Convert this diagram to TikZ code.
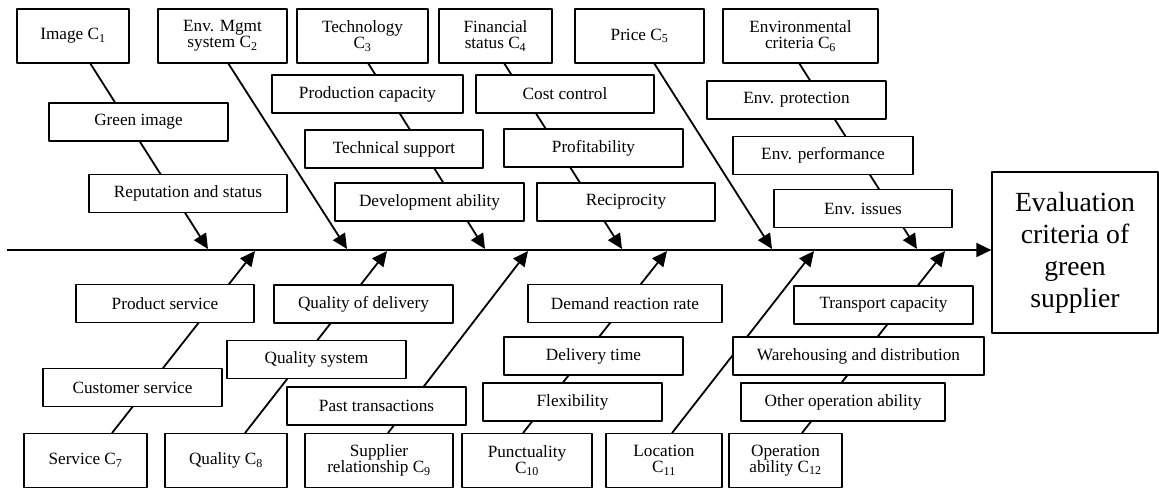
\documentclass[tikz,border=0pt]{standalone}
\usepackage{fontspec}
\setmainfont{Liberation Serif}
\usetikzlibrary{arrows.meta}
\newcommand{\Cn}[1]{C\textsubscript{#1}}
\begin{document}
\begin{tikzpicture}[x=1pt, y=-1pt, >={Triangle[length=15pt,width=14pt]}, line join=round,
		font=\fontsize{17.2}{16}\selectfont,
		box/.style={draw, fill=white, line width=1.3pt, inner sep=0pt, align=center, minimum height=38pt},
		cat/.style={box, minimum height=54pt},
		bone/.style={->, line width=1.8pt}]
	\useasboundingbox (0,0) rectangle (1159,490);
	% result box
	\node[draw, line width=1.3pt, inner sep=0pt, align=center, minimum width=166pt, minimum height=161pt,
		font=\fontsize{27.7}{32}\selectfont] (goal) at (1075,252.5) {Evaluation\\criteria of\\green\\supplier};
	% spine
	\coordinate (tail) at (7,250);
	\draw[bone] (tail) -- (tail -| goal.west);
	% bones, upper side
	\foreach \n/\sx/\tx in {1/90/208, 2/228/347, 3/368/485, 4/504/622, 5/654/772, 6/799/917}{
		\coordinate (s\n) at (\sx,63);
		\coordinate (t\n) at (\tx,249);
		\draw[bone] (s\n) -- (t\n);
	}
	% bones, lower side
	\foreach \n/\sx/\tx in {7/112/255, 8/245/387, 9/388/528, 10/523/667, 11/672/814, 12/802/945}{
		\coordinate (s\n) at (\sx,433);
		\coordinate (t\n) at (\tx,251);
		\draw[bone] (s\n) -- (t\n);
	}
	% main causes
	\node[cat, minimum width=112pt] (c1) at (73,36) {Image \Cn{1}};
	\node[cat, minimum width=129pt] (c2) at (222.5,36) {Env. Mgmt\\system \Cn{2}};
	\node[cat, minimum width=131pt] (c3) at (362.5,36) {Technology\\\Cn{3}};
	\node[cat, minimum width=113pt] (c4) at (495.5,36) {Financial\\status \Cn{4}};
	\node[cat, minimum width=129pt] (c5) at (639.5,36) {Price \Cn{5}};
	\node[cat, minimum width=155pt] (c6) at (800.5,36) {Environmental\\criteria \Cn{6}};
	\node[cat, minimum width=123pt] (c7) at (85.5,460.5) {Service \Cn{7}};
	\node[cat, minimum width=122pt] (c8) at (226,460.5) {Quality \Cn{8}};
	\node[cat, minimum width=148pt] (c9) at (379,460.5) {Supplier\\relationship \Cn{9}};
	\node[cat, minimum width=130pt] (c10) at (527,460.5) {Punctuality\\\Cn{10}};
	\node[cat, minimum width=116pt] (c11) at (664,460.5) {Location\\\Cn{11}};
	\node[cat, minimum width=113pt] (c12) at (785.5,460.5) {Operation\\ability \Cn{12}};
	% sub causes, upper side
	\node[box, minimum width=179pt] (greenimg) at (138.5,122) {Green image};
	\node[box, minimum width=198pt] (reput) at (188,193.5) {Reputation and status};
	\node[box, minimum width=191pt] (prodcap) at (367.5,94) {Production capacity};
	\node[box, minimum width=178pt] (techsup) at (394,149) {Technical support};
	\node[box, minimum width=189pt] (devabil) at (429.5,202) {Development ability};
	\node[box, minimum width=178pt] (costctl) at (565,94) {Cost control};
	\node[box, minimum width=179pt] (profit) at (593.5,148) {Profitability};
	\node[box, minimum width=178pt] (recip) at (626,202) {Reciprocity};
	\node[box, minimum width=179pt] (envprot) at (796.5,100) {Env. protection};
	\node[box, minimum width=180pt] (envperf) at (823,155.5) {Env. performance};
	\node[box, minimum width=178pt] (envissue) at (863,208.5) {Env. issues};
	% sub causes, lower side
	\node[box, minimum width=178pt] (prodserv) at (165,303.5) {Product service};
	\node[box, minimum width=179pt] (custserv) at (132.5,387.5) {Customer service};
	\node[box, minimum width=179pt] (qualdel) at (363.5,304) {Quality of delivery};
	\node[box, minimum width=179pt] (qualsys) at (316.5,359.5) {Quality system};
	\node[box, minimum width=179pt] (pasttr) at (376.5,406) {Past transactions};
	\node[box, minimum width=194pt] (demand) at (625,303.5) {Demand reaction rate};
	\node[box, minimum width=179pt] (deltime) at (593.5,356) {Delivery time};
	\node[box, minimum width=179pt] (flex) at (572.5,402) {Flexibility};
	\node[box, minimum width=179pt] (transp) at (883.5,305) {Transport capacity};
	\node[box, minimum width=251pt] (wareh) at (858.5,356) {Warehousing and distribution};
	\node[box, minimum width=204pt] (otherop) at (843,402) {Other operation ability};
\end{tikzpicture}
\end{document}
